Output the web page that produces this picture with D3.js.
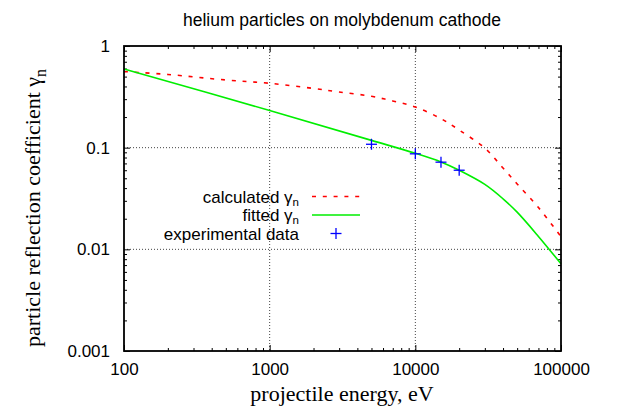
<!DOCTYPE html>
<html>
<head>
<meta charset="utf-8">
<script src="https://cdn.jsdelivr.net/npm/d3@7"></script>
<style>
  body { margin: 0; background: #fff; }
  .tick text { font-family: "Liberation Sans", Arial, sans-serif; font-size: 17px; fill: #000; }
  .tick line { stroke: #000; stroke-width: 1; }
</style>
</head>
<body>
<div id="chart"></div>
<script>
var fullWidth = 621;
var fullHeight = 409;
var margin = {top: 46, right: 60, bottom: 58, left: 124};
var width = fullWidth - margin.left - margin.right;
var height = fullHeight - margin.top - margin.bottom;

// data
var calcEnergy = [100, 200, 500, 1000, 2000, 3000, 5000, 7000, 10000, 15000, 20000, 30000, 40000, 50000, 70000, 100000];
var calcGamma  = [0.56, 0.525, 0.463, 0.43, 0.382, 0.353, 0.32, 0.288, 0.251, 0.193, 0.149, 0.099, 0.063, 0.044, 0.0258, 0.0133];

var fitEnergy = [100, 1000, 5000, 10000, 15000, 20000, 30000, 40000, 50000, 70000, 100000];
var fitGamma  = [0.594, 0.232, 0.118, 0.088, 0.0723, 0.0599, 0.0435, 0.0314, 0.0232, 0.0134, 0.0072];

var expEnergy = [5000, 10000, 15000, 20000];
var expGamma  = [0.108, 0.087, 0.072, 0.06];

var xTicks = [100, 1000, 10000, 100000];
var xTickLabels = ["100", "1000", "10000", "100000"];
var yTicks = [0.001, 0.01, 0.1, 1];
var yTickLabels = ["0.001", "0.01", "0.1", "1"];

var legendNames = ["calculated", "fitted", "experimental data"];

var svg = d3.select("#chart")
  .append("svg")
  .attr("width", fullWidth)
  .attr("height", fullHeight)
  .style("font-family", "Liberation Sans, Arial, sans-serif");

var g = svg.append("g")
  .attr("transform", "translate(" + margin.left + "," + margin.top + ")");

var xScale = d3.scaleLog().domain([100, 100000]).range([0, width]);
var yScale = d3.scaleLog().domain([0.001, 1]).range([height, 0]);

// minor ticks: 2..9 in each decade
var xMinor = [], yMinor = [];
xTicks.slice(0, -1).forEach(function(d) { for (var k = 2; k <= 9; k++) xMinor.push(d * k); });
yTicks.slice(0, -1).forEach(function(d) { for (var k = 2; k <= 9; k++) yMinor.push(+(d * k).toPrecision(3)); });

// grid (dotted) at inner majors
g.append("g").selectAll("line").data(xTicks.slice(1, -1)).enter().append("line")
  .attr("x1", function(d) { return xScale(d); }).attr("x2", function(d) { return xScale(d); })
  .attr("y1", 0).attr("y2", height)
  .attr("stroke", "#444").attr("stroke-width", 1).attr("stroke-dasharray", "1,2");
g.append("g").selectAll("line").data(yTicks.slice(1, -1)).enter().append("line")
  .attr("y1", function(d) { return yScale(d); }).attr("y2", function(d) { return yScale(d); })
  .attr("x1", 0).attr("x2", width)
  .attr("stroke", "#444").attr("stroke-width", 1).attr("stroke-dasharray", "1,2");

// axes, ticks pointing inwards on all four sides
function addAxis(axis, tx, ty) {
  var a = g.append("g").attr("transform", "translate(" + tx + "," + ty + ")").call(axis);
  a.select(".domain").remove();
  return a;
}
addAxis(d3.axisBottom(xScale).tickValues(xTicks).tickFormat(function(d, i) { return xTickLabels[i]; }).tickSize(-6).tickPadding(12), 0, height);
addAxis(d3.axisBottom(xScale).tickValues(xMinor).tickFormat("").tickSize(-3), 0, height);
addAxis(d3.axisTop(xScale).tickValues(xTicks).tickFormat("").tickSize(-6), 0, 0);
addAxis(d3.axisTop(xScale).tickValues(xMinor).tickFormat("").tickSize(-3), 0, 0);
addAxis(d3.axisLeft(yScale).tickValues(yTicks).tickFormat(function(d, i) { return yTickLabels[i]; }).tickSize(-6).tickPadding(14), 0, 0);
addAxis(d3.axisLeft(yScale).tickValues(yMinor).tickFormat("").tickSize(-3), 0, 0);
addAxis(d3.axisRight(yScale).tickValues(yTicks).tickFormat("").tickSize(-6), width, 0);
addAxis(d3.axisRight(yScale).tickValues(yMinor).tickFormat("").tickSize(-3), width, 0);

// lines
var line = d3.line()
  .x(function(d) { return xScale(d[0]); })
  .y(function(d) { return yScale(d[1]); })
  .curve(d3.curveCatmullRom.alpha(0.5));

g.append("path")
  .datum(d3.zip(calcEnergy, calcGamma))
  .attr("d", line)
  .attr("fill", "none").attr("stroke", "#ff0000").attr("stroke-width", 1.6)
  .attr("stroke-dasharray", "4,6.8");

g.append("path")
  .datum(d3.zip(fitEnergy, fitGamma))
  .attr("d", line)
  .attr("fill", "none").attr("stroke", "#00ee00").attr("stroke-width", 1.6);

function plus(sel, cx, cy) {
  sel.append("line").attr("x1", cx - 5.5).attr("x2", cx + 5.5).attr("y1", cy).attr("y2", cy);
  sel.append("line").attr("x1", cx).attr("x2", cx).attr("y1", cy - 5.5).attr("y2", cy + 5.5);
}
var pts = g.append("g").attr("stroke", "#0000ff").attr("stroke-width", 1.3);
d3.zip(expEnergy, expGamma).forEach(function(d) {
  plus(pts, xScale(d[0]), yScale(d[1]));
});

// frame
g.append("rect").attr("width", width).attr("height", height)
  .attr("fill", "none").attr("stroke", "#000").attr("stroke-width", 1.8);

// legend
var leg = svg.append("g").style("font-size", "17px");
var legY = [196.5, 215, 233.5];
legendNames.forEach(function(name, i) {
  var t = leg.append("text").attr("x", 299).attr("y", legY[i] + 6).attr("text-anchor", "end").text(name);
  if (i < 2) {
    t.append("tspan").text(" \u03b3");
    t.append("tspan").attr("dy", 3).style("font-size", "11.5px").text("n");
  }
});
leg.append("line").attr("x1", 312).attr("x2", 360).attr("y1", legY[0]).attr("y2", legY[0])
  .attr("stroke", "#ff0000").attr("stroke-width", 1.6).attr("stroke-dasharray", "4,6.8");
leg.append("line").attr("x1", 312).attr("x2", 360).attr("y1", legY[1]).attr("y2", legY[1])
  .attr("stroke", "#00ee00").attr("stroke-width", 1.6);
plus(leg.append("g").attr("stroke", "#0000ff").attr("stroke-width", 1.3), 336, legY[2]);

// title and axis labels
svg.append("text").attr("x", 342).attr("y", 26).attr("text-anchor", "middle")
  .style("font-size", "17.5px").text("helium particles on molybdenum cathode");

svg.append("text").attr("x", 342).attr("y", 401).attr("text-anchor", "middle")
  .style("font-family", "Liberation Serif, Times New Roman, serif").style("font-size", "22px")
  .text("projectile energy, eV");

var yl = svg.append("text").attr("transform", "translate(40,208) rotate(-90)").attr("text-anchor", "middle")
  .style("font-family", "Liberation Serif, Times New Roman, serif").style("font-size", "22px")
  .text("particle reflection coefficient \u03b3");
yl.append("tspan").attr("dy", 6).style("font-size", "16px").text("n");
</script>
</body>
</html>
